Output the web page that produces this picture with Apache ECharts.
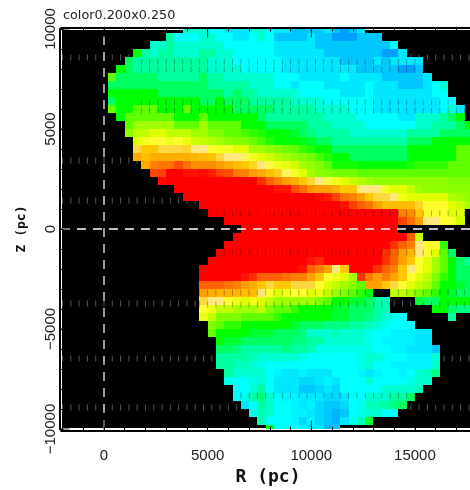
<!DOCTYPE html>
<html>
<head>
<meta charset="utf-8">
<script src="https://cdn.jsdelivr.net/npm/echarts@6/dist/echarts.min.js"></script>
<style>html,body{margin:0;padding:0;background:#fff}#c{width:470px;height:490px}</style>
</head>
<body>
<div id="c"></div>
<script>
const titleText = 'color0.200x0.250';
const xName = 'R (pc)';
const yName = 'Z (pc)';
const cellPc = 400;
const rowIndexTop = 25;
const colorStops = ['#00a0ff','#00c8ff','#00e8ff','#00ffff','#00ffd0','#00ffa0','#00ff60','#00ff00','#60ff00','#a0ff00','#e0ff00','#ffff30','#ffe880','#ffc800','#ffa000','#ff6000','#ff0000'];
// first column index of each row, top row first
const rowStart = [10,8,6,4,3,2,1,1,1,1,1,2,3,3,4,4,4,5,6,7,9,10,12,13,15,17,16,15,14,13,12,12,12,12,12,12,12,13,13,14,14,14,14,15,15,16,16,17,18,19,20];
// colour-scale value of each cell, top row first (null: no data)
const rows = [
[4,4,4,3,3,2,2,2,4,4,3,2,2,1,1,1,1,2,1,0,1,2],
[5,3,3,3,4,4,3,3,2,2,3,4,3,1,1,1,1,2,1,1,0,0,0,1,1,1],
[4,4,5,4,4,4,4,4,4,3,3,3,3,3,3,2,2,2,2,2,1,1,1,1,1,1,1,1,1,3],
[7,5,4,5,5,4,4,4,5,5,4,4,3,3,3,3,3,2,2,2,2,2,2,1,1,1,1,1,1,1,0,0,2],
[6,5,5,5,5,5,5,5,5,5,4,4,4,3,3,3,3,3,3,2,2,2,2,2,2,2,1,1,1,1,2,1,2,2,2,2],
[7,6,5,5,5,5,5,5,5,5,5,4,4,4,4,3,3,3,3,3,2,2,2,2,2,2,2,2,2,1,1,1,1,1,0,0,1],
[8,6,6,6,6,6,5,5,5,5,5,6,5,5,4,4,4,4,4,4,3,3,3,2,2,2,2,2,3,2,2,2,2,1,1,1,1,1,2],
[6,6,6,6,6,6,6,6,6,6,6,6,5,5,5,5,5,4,4,4,3,3,2,3,3,3,2,2,2,2,2,3,2,2,2,1,1,1,2,3,4],
[7,7,7,7,7,7,6,6,6,6,6,6,6,6,5,6,5,5,4,4,4,4,4,3,3,3,3,3,2,2,2,3,2,2,2,2,2,2,2,3,3],
[6,7,7,7,7,7,7,7,7,7,7,6,6,7,6,6,6,5,5,5,5,5,4,4,4,4,3,3,3,3,3,3,2,2,2,2,2,2,2,2,3,3],
[8,7,7,8,8,8,7,7,7,8,7,7,7,7,7,6,6,6,6,6,5,5,5,5,5,4,4,4,4,3,3,3,2,2,2,2,2,2,2,2,3,4,2],
[7,8,8,8,8,8,8,7,7,7,8,7,7,7,7,7,7,6,5,5,5,5,5,5,5,4,4,4,4,3,3,3,3,3,2,2,4,4,4,5,6,7],
[8,9,9,9,9,9,8,8,8,9,8,8,8,8,7,7,7,6,6,6,6,6,5,5,5,4,4,4,4,3,3,3,3,3,3,4,4,5,5,5,6,7],
[8.7,9.5,9.5,10,10,9.5,9.5,9.5,9,9,8.5,8.5,8,8,7.7,7.5,7.3,7,7,6.8,6.5,6,5.5,5,5,5,5,4,4,4,4,4,4,4,5,5,5,5,6,6,6,6],
[10,10.7,11,11,10.6,11,10.3,9.7,9.5,9.3,9,8.7,8.5,8.5,8.2,7.7,7.3,7,7,7,6.7,6.5,6,6,5,5,5,5,5,5,5,5,5,6,6,6,7,7,7,7,7],
[12.5,13,13,12.5,12.5,12.5,12.7,12,12,11,10.6,10.6,10,10,9,9,8.7,8.5,8.2,8,7.6,7.3,7,7,6,6,6,6,6,6,6,6,6,7,7,7,7,7,7,8,8],
[13.7,13.3,13.7,13.7,13.7,13.7,13.7,13.5,13.3,13.2,12.5,12,12,11.5,10.5,10,9.7,9.3,9,8.7,8.5,8.2,7.7,7.3,7,7,6,6,6,6,6,6,6,7,7,7,7,7,7,8,8],
[13.7,14.5,14.7,14.7,15.2,14.7,14.3,14.3,14.3,14,13.7,13.3,13,12.7,12,11.3,10.6,10.2,9.7,9,8.8,8.5,8,7.2,7.2,7.2,7,7,7,7,7,7,7.3,7.5,7.5,7.5,7.5,8,8,8],
[15.3,15.3,16,16,15.8,15.8,15.9,15.7,15.3,15.2,14.6,14.5,14,13.7,13.2,12.8,11.5,10.6,10,9,8.7,8.5,8.3,8.3,8.3,8,8,8,8,8,8,8,8,8,8,8,8,8,8],
[15.9,16,16,16,16,16,16,16,16,16,16,16,15.5,15,14.5,14,13.7,13,12.6,12,11.3,10.5,10,9.5,9.3,9,8.7,8.7,8.7,8.7,8.7,8.7,8.7,8.7,8.7,8.5,8.5,8.5],
[16,16,16,16,16,16,16,16,16,16,16,16,15.8,15.8,15.2,14.8,14.2,14,14,13.7,13,13,12,12,12,10.7,10,10,9.5,9,8.7,8.7,8.7,8.7,8.7,8.7],
[16,16,16,16,16,16,16,16,16,16,16,16,16,16,16,16,15.9,15.7,15.3,14.7,14.5,14,13,12.5,12.5,12,10.5,10,10,10,10,10,9.2,9,8.7],
[16,16,16,16,16,16,16,16,16,16,16,16,16,16,16,16,16,15.8,15.3,15,14.7,14,13.3,13.3,13.3,13.3,12.7,11,11,11,10,9.7,9],
[16,16,16,16,16,16,16,16,16,16,16,16,16,16,16,16,16,16,16,16,16,16,16,14.5,14.3,13,11,11,11,10.2,10],
[16,16,16,16,16,16,16,16,16,16,16,16,16,16,16,16,16,16,16,16,16,15.3,14.7,14,12,12,11,11,9.7],
[16,16,16,16,16,16,16,16,16,16,16,16,16,16,16,16,16,16,16],
[16,16,16,16,16,16,16,16,16,16,16,16,16,16,16,16,16,16,16,16,16,15,9.5],
[16,16,16,16,16,16,16,16,16,16,16,16,16,16,16,16,16,16,16,16,15.5,15,14.5,12,11,11,7.5],
[16,16,16,16,16,16,16,16,16,16,16,16,16,16,16,16,16,16,16,16,15.5,15,14,13.5,12,11,10,8,6],
[16,16,16,16,16,16,16,16,16,16,16,16,15.8,15.6,16,16,16,16,16,16,16,15.5,15,14,13,11,10,9,8,7,6,5],
[16,16,16,16,16,16,16,16,16,16,16,16,15.8,15,14.5,14,12,13,16,16,16,15.5,15,14.5,13,12,11,10,9,8,7,6,6],
[16,16,16,16,16,15.8,15.5,15,15,15,14.7,14.5,14.5,14,13,11,10.5,10,9,15.5,14.5,14,14.5,14,13,11,10,9.5,8.5,7.5,7,6,6],
[15,15,15,14.7,14.5,14,13.7,13,12.5,13,13,12.5,12.5,12.5,11,10,9.5,9,8.5,8,14,14,13,12.5,11,10,9.5,9,8,7,7,6.5,6],
[14,13.7,13.5,13.5,13.5,13.3,13.3,12,11,10,10.5,11,11,10,10.3,9.5,9,8.5,8,7.5,7,null,null,9.5,9.5,9,8.5,8,7.5,7,6.5,6,6],
[12.5,12,12,11,10.5,10,10.5,10,9.5,9,9,9,9,9,8.5,8,7,7,6.5,6.5,6,5,4.5,null,null,null,6.5,6,6,7,7,7,7],
[11,10.5,9.5,9.5,9,9,9,9.5,8.5,8,8,7.5,7,7,7,7,6.5,6.5,6,6,6,5,4.5,null,null,null,null,null,7,7,6,5.5,5.5],
[10.5,9.5,8.5,8.5,8.5,8,8,8,8,7.5,7,7,7,7,7,7,6.5,6.5,6,6,5.5,5,4,3.5,3,null,null,null,null,null,5],
[8.5,8,7.5,7.5,7,7,7,7,7,7,6.5,6,6,6,5.5,5.5,5.5,5,5,4.5,4,3.5,3,3,3],
[8,7,7,7,7,6.5,6.5,6.5,6,6,6,5.5,4,4,4,4.5,4,4,4,3.5,3,3,2.5,2.5,2.5,2,2],
[7,6.5,6.5,6,6,6,6,6,6,5.5,5.5,5,5,4,4,4,4,4,3.5,3,2.5,2.5,2.5,2.5,2,2],
[6,6,5.5,5,5,5,5,5,5.5,5,5,4.5,3.5,3.5,3.5,3.5,3.5,3.5,3.5,3,3,2.5,2.5,2,2,2,1],
[5,5,5,5,4.5,4,4,4,4,4,3.5,3,3,3,3,3,3,3.5,4,4,3.5,3,3,2.5,2.5,2.5,4],
[5,5,4.5,4.5,4,3.5,3,3,3,3,3,3,3,3,3,3,3,3.5,4,3,3,2.5,2.5,2.5,2.5,2.5,4],
[5,4,4,4,4,3,2.5,2,2,2.5,2,2,2,3,3,3,2.5,2,2.5,3,3,2.5,3,4,4.5,5.5],
[3.5,3,3,3.5,4,3,2,2,2,1.5,1.5,2,2.5,2,3,3,3,4,3,3,3,3,3.5,4,4],
[3,3,4,5,3,2,2,2,1,1,1.5,2,1.5,3,3,3,3,3,4,4,4,4,4.5],
[3,3.5,5,5.5,4,3,2.5,2.5,2,2,2,1.5,1.5,2,3,3,4,4,4,5,5,6],
[2,3,5,4,3,3,2.5,2,2.5,1.5,1,1,1.5,3,3.5,4.5,4.5,5,5.5,6],
[3.5,4.5,4,3,3,2.5,2.5,2,1.5,1,0.5,1,3,3.5,4,4,3,3],
[4.5,3,3,3,2.5,1.5,2.5,1.5,1,0.5,2,3.5,4.5,6.5],
[7,3,3,3,2.5,2,2,0.5,1]
];
const stripR = [-2000,-1600,-1200,-800,-400,0,400,800,1200,1600,2000,2400,2800,3200,3600,4000,4400,4800,5200,5600,6000,6400,6800,7200,7600,8000,8400,8800,9200,9600,10000,10400,10800,11200,11600,12000,12400,12800,13200,13600,14000,14400,14800,15200,15600,16000,16400,16800,17200,17600];
const darkStripR = [1800,2200,2600,3000,3400,3800,4200,4600,5000,5400,5800,6200,6600,7000,7400,7800,8200,8600,9000,9400,9800,10200,10600,11000,11400,11800,12200,12600,13000,13400,13800,14200,14600,15000,15400,15800,16200,16600,17000,17400];
const greyStripZ = [8575,3425,1425,-3725,-6475,-8925];
const darkStripZ = [8350,7975,6325,5925,775,-1175,-3175,-3775,-8325];
const rLabelTicks = [0,5000,10000,15000];
const rMinorTicks = [-2000,-1000,0,1000,2000,3000,4000,5000,6000,7000,8000,9000,10000,11000,12000,13000,14000,15000,16000,17000];
const zLabelTicks = [-10000,-5000,0,5000,10000];
const zMinorTicks = [-10000,-9000,-8000,-7000,-6000,-5000,-4000,-3000,-2000,-1000,0,1000,2000,3000,4000,5000,6000,7000,8000,9000,10000];
const zeroLineR = [-2074,17897];
const zeroLineZ = [-10000,10000];
const rMin = -2074, rMax = 17897, zMin = -10000, zMax = 10000;

const cells = [];
rows.forEach((vals, i) => {
  vals.forEach((v, j) => {
    if (v !== null) cells.push([(rowStart[i] + j) * cellPc, (rowIndexTop - i) * cellPc, v]);
  });
});
const strip = (rs, zs) => zs.flatMap(z => rs.map(r => [r, z]));

const chart = echarts.init(document.getElementById('c'), null, {renderer: 'canvas'});
const tickFont = {fontFamily: 'Liberation Sans', fontSize: 15, color: '#222'};
const axisCommon = {
  axisLine: {show: true, onZero: false, lineStyle: {color: '#000', width: 2}},
  splitLine: {show: false},
  z: 10
};
const ticks = vals => ({show: true, inside: true, length: 4, customValues: vals, lineStyle: {color: '#000', width: 1}});
const majorTick = {type: 'scatter', z: 9, silent: true, clip: false, xAxisIndex: 0, yAxisIndex: 0, symbol: 'rect', itemStyle: {color: '#000'}};
chart.setOption({
  animation: false,
  backgroundColor: '#fff',
  title: {text: titleText, left: 58, top: 4, textStyle: {fontFamily: 'DejaVu Sans', fontWeight: 'normal', fontSize: 12.8, color: '#222'}},
  grid: {left: 61, top: 29, right: -5, bottom: 61, outerBoundsMode: 'none', show: true, backgroundColor: '#000', borderColor: '#fff', borderWidth: 2},
  visualMap: {show: false, type: 'continuous', min: 0, max: 16, dimension: 2, seriesIndex: 1, inRange: {color: colorStops}},
  xAxis: [
    Object.assign({}, axisCommon, {type: 'value', position: 'bottom', offset: 1.5, min: rMin, max: rMax,
      name: xName, nameLocation: 'middle', nameGap: 28, nameTextStyle: {fontFamily: 'DejaVu Sans Mono', fontWeight: 'bold', fontSize: 18, color: '#111'},
      axisTick: ticks(rMinorTicks),
      axisLabel: Object.assign({margin: 18, customValues: rLabelTicks, formatter: v => String(v)}, tickFont)}),
    Object.assign({}, axisCommon, {type: 'value', position: 'top', offset: 1.5, min: rMin, max: rMax, axisTick: ticks(rMinorTicks), axisLabel: {show: false}})
  ],
  yAxis: [
    Object.assign({}, axisCommon, {type: 'value', position: 'left', offset: 1.5, min: zMin, max: zMax,
      name: yName, nameLocation: 'middle', nameGap: 31, nameRotate: 90, nameTextStyle: {fontFamily: 'DejaVu Sans Mono', fontWeight: 'bold', fontSize: 13, color: '#111'},
      axisTick: ticks(zMinorTicks),
      axisLabel: Object.assign({margin: 1, rotate: 90, customValues: zLabelTicks, formatter: v => String(v).replace('-', '\u2212')}, tickFont)})
  ],
  series: [
    {type: 'scatter', z: 1, silent: true, xAxisIndex: 0, yAxisIndex: 0, symbol: 'rect', symbolSize: [1, 6], itemStyle: {color: '#555', opacity: 1}, data: strip(stripR, greyStripZ)},
    {type: 'custom', z: 2, silent: true, xAxisIndex: 0, yAxisIndex: 0, encode: {x: 0, y: 1}, data: cells,
      renderItem: function (params, api) {
        const p = api.coord([api.value(0), api.value(1)]);
        const s = api.size([cellPc, cellPc]);
        const x0 = Math.round(p[0] - s[0] / 2), x1 = Math.round(p[0] + s[0] / 2);
        const y0 = Math.round(p[1] - s[1] / 2), y1 = Math.round(p[1] + s[1] / 2);
        const rect = echarts.graphic.clipRectByRect({x: x0, y: y0, width: x1 - x0, height: y1 - y0},
          {x: params.coordSys.x, y: params.coordSys.y - 1, width: params.coordSys.width, height: params.coordSys.height + 1});
        return rect && {type: 'rect', shape: rect, style: {fill: api.visual('color')}};
      }},
    {type: 'scatter', z: 3, silent: true, xAxisIndex: 0, yAxisIndex: 0, symbol: 'rect', symbolSize: [1, 6], itemStyle: {color: '#000', opacity: 0.3}, data: strip(darkStripR, darkStripZ)},
    {type: 'line', z: 4, silent: true, xAxisIndex: 0, yAxisIndex: 0, symbol: 'none', lineStyle: {color: '#fff', width: 1.5, type: [9, 7]}, data: zeroLineR.map(r => [r, 0])},
    {type: 'line', z: 4, silent: true, xAxisIndex: 0, yAxisIndex: 0, symbol: 'none', lineStyle: {color: '#ccc', width: 1.5, type: [9, 7]}, data: zeroLineZ.map(z => [0, z])},
    Object.assign({}, majorTick, {symbolSize: [1, 9], symbolOffset: [0, -4], data: rLabelTicks.map(r => [r, zMin])}),
    Object.assign({}, majorTick, {symbolSize: [1, 9], symbolOffset: [0, 4], data: rLabelTicks.map(r => [r, zMax])}),
    Object.assign({}, majorTick, {symbolSize: [9, 1], symbolOffset: [4, 0], data: zLabelTicks.map(z => [rMin, z])})
  ]
});
</script>
</body>
</html>
